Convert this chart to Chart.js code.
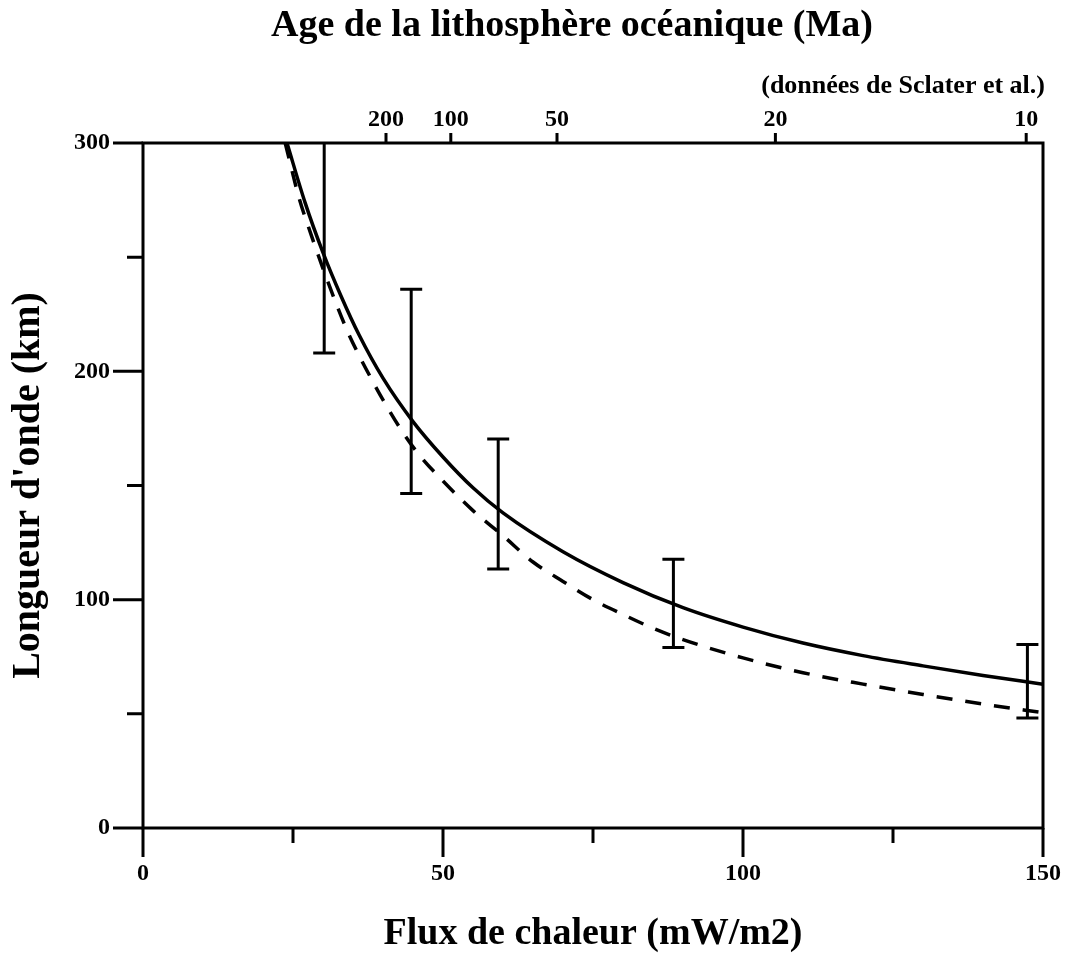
<!DOCTYPE html>
<html>
<head>
<meta charset="utf-8">
<script src="https://cdn.jsdelivr.net/npm/chart.js@4.4.0/dist/chart.umd.min.js"></script>
<style>
  body { margin: 0; background: #fff; }
  #wrap { width: 1068px; height: 960px; }
</style>
</head>
<body>
<div id="wrap"><canvas id="myChart" width="1068" height="960"></canvas></div>
<script>
// data
const solidFlux = [24, 27, 30, 33, 36, 40, 45, 50, 55, 60, 70, 80, 90, 100, 110, 120, 130, 140, 150];
const solidLambda = [300, 274, 252, 233, 216, 197, 178, 162.5, 149, 138, 121, 107.5, 96.5, 88, 81, 75.5, 71, 66.8, 63];

const dashFlux = [23.7, 26, 28, 30, 32, 34, 36, 38, 40, 43, 46, 50, 55, 60, 65, 70, 75, 80, 85, 90, 100, 110, 120, 130, 140, 150];
const dashLambda = [300, 276, 260, 245, 231, 218, 207, 197, 187.5, 174.5, 163.5, 152, 139, 128, 116.5, 108, 100, 93.5, 87.5, 82.5, 74.5, 68, 63, 58.5, 54.3, 50.5];

// error bars (Sclater et al.)
const errFlux = [30.2, 44.7, 59.2, 88.4, 147.4];
const errLow = [208, 146.5, 113.4, 79, 48.2];
const errHigh = [330, 236, 170.4, 117.7, 80.4];

// top axis: age of the oceanic lithosphere
const ageLabels = ["200", "100", "50", "20", "10"];
const ageFlux = [40.5, 51.3, 69, 105.4, 147.2];

const FONT = "'Liberation Serif', 'Times New Roman', serif";

const toXY = (xs, ys) => xs.map((x, i) => ({ x: x, y: ys[i] }));

// frame, ticks, error bars and header texts
const marks = {
  id: 'marks',
  afterDatasetsDraw(chart) {
    const ctx = chart.ctx;
    const a = chart.chartArea;
    const xs = chart.scales.x, ys = chart.scales.y, xt = chart.scales.xTop;

    ctx.save();
    ctx.strokeStyle = '#000';
    ctx.lineWidth = 3;
    ctx.lineCap = 'butt';

    // error bars
    ctx.save();
    ctx.beginPath();
    ctx.rect(a.left, a.top - 1, a.right - a.left, a.bottom - a.top + 2);
    ctx.clip();
    errFlux.forEach((f, i) => {
      const px = xs.getPixelForValue(f);
      const lo = ys.getPixelForValue(errLow[i]);
      const hi = ys.getPixelForValue(errHigh[i]);
      ctx.beginPath();
      ctx.moveTo(px, lo); ctx.lineTo(px, hi);
      ctx.moveTo(px - 11, lo); ctx.lineTo(px + 11, lo);
      ctx.moveTo(px - 11, hi); ctx.lineTo(px + 11, hi);
      ctx.stroke();
    });
    ctx.restore();

    // frame
    ctx.strokeRect(a.left, a.top, a.right - a.left, a.bottom - a.top);

    ctx.beginPath();
    // left axis ticks
    ys.ticks.forEach(t => {
      const py = ys.getPixelForValue(t.value);
      const len = t.value % 100 === 0 ? 30 : 16;
      ctx.moveTo(a.left - len, py); ctx.lineTo(a.left, py);
    });
    // bottom axis ticks
    xs.ticks.forEach(t => {
      const px = xs.getPixelForValue(t.value);
      const len = t.value % 50 === 0 ? 29 : 15;
      ctx.moveTo(px, a.bottom); ctx.lineTo(px, a.bottom + len);
    });
    // top axis ticks
    xt.ticks.forEach(t => {
      const px = xt.getPixelForValue(t.value);
      ctx.moveTo(px, a.top); ctx.lineTo(px, a.top - 10);
    });
    ctx.stroke();

    // header texts
    ctx.fillStyle = '#000';
    ctx.textBaseline = 'middle';
    ctx.textAlign = 'center';
    ctx.font = 'bold 38px ' + FONT;
    ctx.fillText('Age de la lithosphère océanique (Ma)', 572, 26);
    ctx.textAlign = 'right';
    ctx.font = 'bold 26px ' + FONT;
    ctx.fillText('(données de Sclater et al.)', 1045, 86);
    ctx.restore();
  }
};

const noPad = (scale) => { scale.paddingLeft = 0; scale.paddingRight = 0; scale.paddingTop = 0; scale.paddingBottom = 0; };

const config = {
  type: 'line',
  data: {
    datasets: [
      {
        label: 'solide',
        data: toXY(solidFlux, solidLambda),
        borderColor: '#000',
        borderWidth: 3.5,
        pointRadius: 0,
        cubicInterpolationMode: 'monotone',
      },
      {
        label: 'tirets',
        data: toXY(dashFlux, dashLambda),
        borderColor: '#000',
        borderWidth: 3.5,
        borderDash: [16, 13],
        pointRadius: 0,
        cubicInterpolationMode: 'monotone',
      },
    ],
  },
  options: {
    responsive: false,
    animation: false,
    events: [],
    layout: { padding: { left: 0, right: 25, top: 0, bottom: 0 } },
    plugins: {
      legend: { display: false },
      tooltip: { enabled: false },
    },
    scales: {
      x: {
        type: 'linear',
        position: 'bottom',
        min: 0,
        max: 150,
        grid: { display: false, drawTicks: false },
        border: { display: false },
        ticks: {
          stepSize: 25,
          autoSkip: false,
          maxRotation: 0,
          padding: 31,
          color: '#000',
          font: { family: FONT, size: 24, weight: 'bold' },
          callback: (v) => (v % 50 === 0 ? v : ''),
        },
        title: {
          display: true,
          text: 'Flux de chaleur (mW/m2)',
          color: '#000',
          font: { family: FONT, size: 38, weight: 'bold' },
          padding: { top: 0, bottom: 3 },
        },
        afterFit: (scale) => { scale.height = 132; noPad(scale); },
      },
      xTop: {
        type: 'linear',
        position: 'top',
        min: 0,
        max: 150,
        grid: { display: false, drawTicks: false },
        border: { display: false },
        afterBuildTicks: (scale) => {
          scale.ticks = ageFlux.map(v => ({ value: v }));
        },
        ticks: {
          autoSkip: false,
          maxRotation: 0,
          padding: 9,
          color: '#000',
          font: { family: FONT, size: 24, weight: 'bold' },
          callback: (v, i) => ageLabels[i],
        },
        afterFit: (scale) => { scale.height = 143; noPad(scale); },
      },
      y: {
        type: 'linear',
        min: 0,
        max: 300,
        grid: { display: false, drawTicks: false },
        border: { display: false },
        ticks: {
          stepSize: 50,
          autoSkip: false,
          padding: 33,
          color: '#000',
          font: { family: FONT, size: 24, weight: 'bold' },
          callback: (v) => (v % 100 === 0 ? v : ''),
        },
        title: {
          display: true,
          text: "Longueur d'onde (km)",
          color: '#000',
          font: { family: FONT, size: 40, weight: 'bold' },
          padding: { top: 5, bottom: 0 },
        },
        afterFit: (scale) => { scale.width = 143; noPad(scale); },
      },
    },
  },
  plugins: [marks],
};

const myChart = new Chart(document.getElementById('myChart'), config);
</script>
</body>
</html>
